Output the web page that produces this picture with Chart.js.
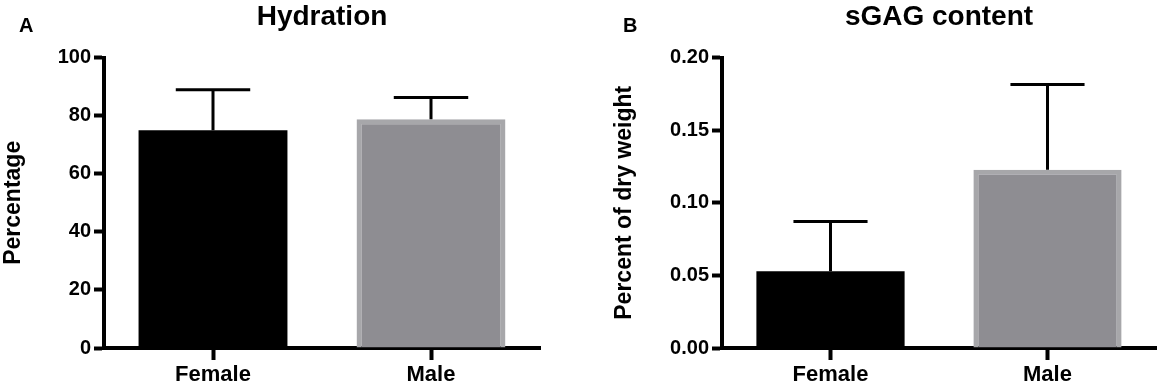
<!DOCTYPE html>
<html>
<head>
<meta charset="utf-8">
<script src="https://cdn.jsdelivr.net/npm/chart.js@4.4.0/dist/chart.umd.min.js"></script>
<style>
  html, body { margin: 0; padding: 0; background: #ffffff; }
  #panelA { position: absolute; left: 0; top: 0; width: 580px; height: 388px; }
  #panelB { position: absolute; left: 580px; top: 0; width: 581px; height: 388px; }
</style>
</head>
<body>
<div id="panelA"><canvas id="hydration"></canvas></div>
<div id="panelB"><canvas id="sgag"></canvas></div>
<script>
var groups = ["Female", "Male"];
var hydrationMean = [75.0, 78.8];
var hydrationErr = [13.9, 7.5];
var sgagMean = [0.0528, 0.1228];
var sgagErr = [0.0343, 0.0586];
var hydrationTicks = [0, 20, 40, 60, 80, 100];
var sgagTicks = [0, 0.05, 0.10, 0.15, 0.20];

var fontFamily = '"Liberation Sans", Arial, Helvetica, sans-serif';
Chart.defaults.font.family = fontFamily;
Chart.defaults.font.weight = "bold";
Chart.defaults.color = "#000000";

// mean + SD whiskers, upper side only
const errorBars = {
  id: "errorBars",
  afterDatasetsDraw(chart) {
    const ctx = chart.ctx;
    const yScale = chart.scales.y;
    chart.data.datasets.forEach((ds, i) => {
      const meta = chart.getDatasetMeta(i);
      meta.data.forEach((bar, j) => {
        const top = yScale.getPixelForValue(ds.data[j] + ds.errors[j]);
        const half = bar.width / 4;
        ctx.save();
        ctx.strokeStyle = "#000000";
        ctx.lineWidth = 3;
        ctx.beginPath();
        ctx.moveTo(bar.x, bar.y);
        ctx.lineTo(bar.x, top);
        ctx.moveTo(bar.x - half, top);
        ctx.lineTo(bar.x + half, top);
        ctx.stroke();
        ctx.restore();
      });
    });
  },
};

const panelLetter = {
  id: "panelLetter",
  afterDraw(chart, args, opts) {
    const ctx = chart.ctx;
    ctx.save();
    ctx.font = "bold 20px " + fontFamily;
    ctx.fillStyle = "#000000";
    ctx.textBaseline = "alphabetic";
    ctx.fillText(opts.text, opts.x, opts.y);
    ctx.restore();
  },
};

function makeConfig(title, yTitle, means, errs, ticks, yWidth, rightPad, yTitlePad, letter, letterX, fmt) {
  return {
    type: "bar",
    data: {
      labels: groups,
      datasets: [
        {
          data: means,
          errors: errs,
          backgroundColor: ["#000000", "#8e8d92"],
          borderColor: ["#000000", "#a7a7aa"],
          borderWidth: [0, 5],
          borderSkipped: "start",
          barPercentage: 0.683,
          categoryPercentage: 1.0,
        },
      ],
    },
    options: {
      responsive: true,
      maintainAspectRatio: false,
      animation: false,
      layout: { padding: { left: 0, right: rightPad, top: 0, bottom: 0 } },
      plugins: {
        legend: { display: false },
        tooltip: { enabled: false },
        title: {
          display: true,
          text: title,
          fullSize: false,
          color: "#000000",
          font: { size: 28, weight: "bold" },
          padding: { top: 0, bottom: 24 },
        },
        panelLetter: { text: letter, x: letterX, y: 32 },
      },
      scales: {
        x: {
          grid: {
            display: true,
            drawOnChartArea: false,
            drawTicks: true,
            offset: false,
            tickLength: 12,
            tickWidth: 4,
            tickColor: "#000000",
          },
          border: { display: true, width: 4, color: "#000000" },
          ticks: { font: { size: 22, weight: "bold" }, padding: 2, color: "#000000" },
          afterFit: (scale) => { scale.height = 40; },
        },
        y: {
          min: ticks[0],
          max: ticks[ticks.length - 1],
          afterBuildTicks: (scale) => { scale.ticks = ticks.map((v) => ({ value: v })); },
          grid: {
            display: true,
            drawOnChartArea: false,
            drawTicks: true,
            tickLength: 10,
            tickWidth: 4,
            tickColor: "#000000",
          },
          border: { display: true, width: 4, color: "#000000" },
          ticks: {
            font: { size: 20, weight: "bold" },
            padding: 3,
            color: "#000000",
            callback: fmt,
          },
          title: {
            display: true,
            text: yTitle,
            color: "#000000",
            font: { size: 23, weight: "bold" },
            padding: { top: yTitlePad, bottom: 0 },
          },
          afterFit: (scale) => { scale.width = yWidth; },
        },
      },
    },
    plugins: [errorBars, panelLetter],
  };
}

const hydrationChart = new Chart(
  document.getElementById("hydration"),
  makeConfig("Hydration", "Percentage", hydrationMean, hydrationErr, hydrationTicks,
    104, 40, 0, "A", 19, (v) => v)
);

const sgagChart = new Chart(
  document.getElementById("sgag"),
  makeConfig("sGAG content", "Percent of dry weight", sgagMean, sgagErr, sgagTicks,
    142, 5, 31, "B", 43, (v) => Number(v).toFixed(2))
);
</script>
</body>
</html>
